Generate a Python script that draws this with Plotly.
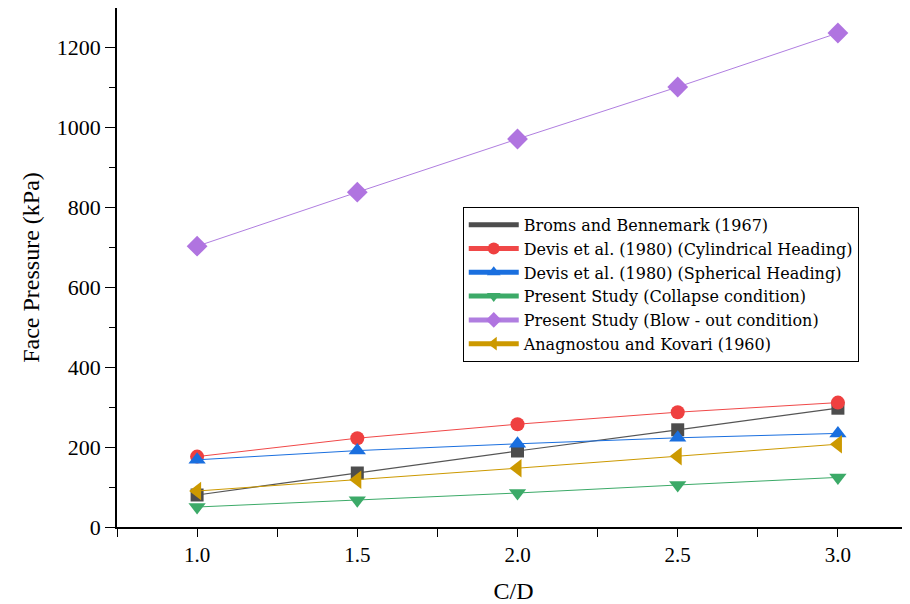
import plotly.graph_objects as go

cd = [1.0, 1.5, 2.0, 2.5, 3.0]
broms = [80, 135, 190, 243, 297]
devis_cyl = [176, 222, 257, 287, 311]
devis_sph = [168, 191, 208, 223, 234]
collapse = [50, 67, 85, 105, 124]
blowout = [702, 837, 970, 1100, 1235]
anagnostou = [90, 118, 147, 177, 207]

names = ["Broms and Bennemark (1967)",
         "Devis et al. (1980) (Cylindrical Heading)",
         "Devis et al. (1980) (Spherical Heading)",
         "Present Study (Collapse condition)",
         "Present Study (Blow - out condition)",
         "Anagnostou and Kovari (1960)"]

FONT = "Liberation Serif, Times New Roman, serif"
LEGFONT = "DejaVu Serif, serif"

fig = go.Figure()

# Legend-only entry for Broms (wide rectangle symbol)
fig.add_trace(go.Scatter(x=[None], y=[None], mode="lines", name=names[0],
                         line=dict(color="#4d4d4d", width=16), showlegend=True))
fig.add_trace(go.Scatter(x=cd, y=broms, mode="lines+markers", name=names[0], showlegend=False,
                         line=dict(color="#555555", width=1.2),
                         marker=dict(symbol="square", size=13, color="#4d4d4d")))
fig.add_trace(go.Scatter(x=cd, y=devis_cyl, mode="lines+markers", name=names[1],
                         line=dict(color="#f04848", width=1),
                         marker=dict(symbol="circle", size=14, color="#ef4040")))
fig.add_trace(go.Scatter(x=cd, y=devis_sph, mode="lines+markers", name=names[2],
                         line=dict(color="#1a6fdf", width=1),
                         marker=dict(symbol="triangle-up", size=15, color="#1a6fdf")))
fig.add_trace(go.Scatter(x=cd, y=collapse, mode="lines+markers", name=names[3],
                         line=dict(color="#3caa68", width=1),
                         marker=dict(symbol="triangle-down", size=15, color="#3caa68")))
fig.add_trace(go.Scatter(x=cd, y=blowout, mode="lines+markers", name=names[4],
                         line=dict(color="#b07ee0", width=1),
                         marker=dict(symbol="diamond", size=16, color="#b074e0")))
fig.add_trace(go.Scatter(x=cd, y=anagnostou, mode="lines+markers", name=names[5],
                         line=dict(color="#cc9900", width=1),
                         marker=dict(symbol="triangle-left", size=16, color="#cc9900")))

fig.update_layout(
    width=902, height=596,
    margin=dict(l=109, r=0, t=0, b=77),
    plot_bgcolor="white", paper_bgcolor="white",
    font=dict(family=FONT, color="black"),
    showlegend=True,
    legend=dict(x=0.436, y=0.617, xanchor="left", yanchor="top",
                bgcolor="white", bordercolor="black", borderwidth=1,
                font=dict(family=LEGFONT, size=16, color="black"),
                itemwidth=50, tracegroupgap=0, traceorder="normal",
                itemsizing="constant"),
    xaxis=dict(range=[0.75, 3.225], tickvals=cd, ticktext=["1.0", "1.5", "2.0", "2.5", "3.0"],
               automargin=False,
               showgrid=False, zeroline=False, showline=True, linecolor="black", linewidth=1.5,
               mirror=True, ticks="outside", ticklen=8, tickwidth=1.2, tickcolor="black",
               tickfont=dict(family=FONT, size=21),
               minor=dict(tickvals=[0.75, 1.25, 1.75, 2.25, 2.75, 3.25], ticks="outside",
                          ticklen=8, tickwidth=1.2, tickcolor="black"),
               title=dict(text="C/D", font=dict(family=FONT, size=24), standoff=16)),
    yaxis=dict(range=[0, 1297.5], tickvals=[0, 200, 400, 600, 800, 1000, 1200],
               automargin=False,
               showgrid=False, zeroline=False, showline=True, linecolor="black", linewidth=1.5,
               mirror=True, ticks="outside", ticklen=10, tickwidth=1.2, tickcolor="black",
               tickfont=dict(family=FONT, size=22),
               minor=dict(tickvals=[100, 300, 500, 700, 900, 1100], ticks="outside",
                          ticklen=6, tickwidth=1.2, tickcolor="black"),
               title=dict(text="Face Pressure (kPa)", font=dict(family=FONT, size=24), standoff=10)),
)

fig.write_html("out.html")
